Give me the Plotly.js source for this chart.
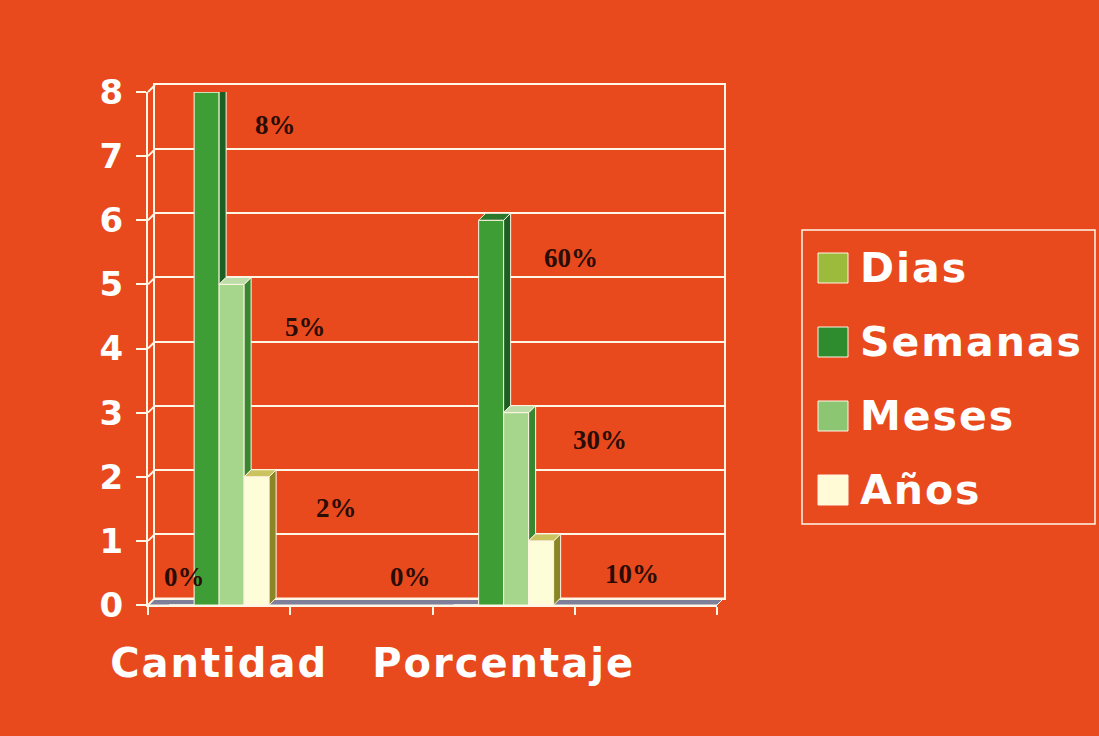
<!DOCTYPE html>
<html>
<head>
<meta charset="utf-8">
<script src="https://cdn.plot.ly/plotly-3.0.1.min.js"></script>
<style>
  html, body { margin: 0; padding: 0; background: #E84A1E; }
  #chart { width: 1099px; height: 736px; }
  .x2tick text { letter-spacing: 2px; }
  text.annotation-text[style*="DejaVu"] { letter-spacing: 2px; }
</style>
</head>
<body>
<div id="chart"></div>
<script>
// ---------- data ----------
const categories = ['Cantidad', 'Porcentaje'];
const seriesNames = ['Dias', 'Semanas', 'Meses', 'Años'];
const dias = [0, 0];
const semanas = [8, 6];
const meses = [5, 3];
const anos = [2, 1];
const diasLabels = ['0%', '0%'];
const semanasLabels = ['8%', '60%'];
const mesesLabels = ['5%', '30%'];
const anosLabels = ['2%', '10%'];
const yTicks = [0, 1, 2, 3, 4, 5, 6, 7, 8];

// ---------- styles ----------
const BG = '#E84A1E';
const WHITE = '#FFF6E6';
const frontColors = ['#9cba3a', '#3f9d35', '#a6d68c', '#fdfdd8'];
const sideColors = ['#5d7a1e', '#1d5f22', '#378730', '#8a8626'];
const topColors = ['#b7cf5a', '#2b782c', '#bddda8', '#cbc45e'];
const legendColors = ['#9cbb3c', '#2e8b2e', '#8cc672', '#fffbd6'];
// pixel offsets of data labels (per series, per category) relative to category centre / bar top
const labelDX = [[-35, -93], [56, 67], [86, 96], [117, 128]];
const labelDY = [[28, 28], [-33, -38], [-43, -27], [-31, -33]];

const values = [dias, semanas, meses, anos];
const labels = [diasLabels, semanasLabels, mesesLabels, anosLabels];

// ---------- geometry ----------
const W = 1099, H = 736;
const M = { l: 148, r: 375, t: 85, b: 131 };
const PW = W - M.l - M.r;   // 576
const PH = H - M.t - M.b;   // 520
const DEPTH = 7;
const xRange = [-0.25, 1.75], yRange = [0, 8];
const frontW = PW - DEPTH, frontH = PH - DEPTH;
const pxPerX = frontW / (xRange[1] - xRange[0]);
const pxPerY = frontH / (yRange[1] - yRange[0]);
const ddx = DEPTH / pxPerX, ddy = DEPTH / pxPerY;
const barW = 25 / pxPerX;
const catX = categories.map((c, i) => i);

const traces = [];
// dummy trace so the back-wall subplot exists
traces.push({ type: 'scatter', x: [], y: [], xaxis: 'x', yaxis: 'y', hoverinfo: 'skip', showlegend: false });

// front faces
seriesNames.forEach((name, k) => {
  traces.push({
    type: 'bar', name: name, x: catX, y: values[k],
    offset: (k - 2) * barW, width: barW,
    xaxis: 'x2', yaxis: 'y2',
    marker: { color: frontColors[k], line: { color: WHITE, width: 1 } },
    showlegend: false, hoverinfo: 'name+y'
  });
});

// 3D side and top faces
categories.forEach((c, i) => {
  seriesNames.forEach((name, k) => {
    const v = values[k][i];
    if (!(v > 0)) return;
    const xl = i + (k - 2) * barW, xr = xl + barW;
    const vn = k < seriesNames.length - 1 ? values[k + 1][i] : 0;
    if (vn < v) {
      traces.push({
        type: 'scatter', mode: 'lines', fill: 'toself', xaxis: 'x2', yaxis: 'y2',
        x: [xr, xr, xr + ddx, xr + ddx, xr], y: [vn, v, v + ddy, vn + ddy, vn],
        fillcolor: sideColors[k], line: { color: WHITE, width: 1 },
        hoverinfo: 'skip', showlegend: false
      });
    }
    traces.push({
      type: 'scatter', mode: 'lines', fill: 'toself', xaxis: 'x2', yaxis: 'y2',
      x: [xl, xr, xr + ddx, xl + ddx, xl], y: [v, v, v + ddy, v + ddy, v],
      fillcolor: topColors[k], line: { color: WHITE, width: 1 },
      hoverinfo: 'skip', showlegend: false
    });
  });
});

// ---------- shapes ----------
const px2x = px => (px - M.l) / PW;
const px2y = py => (H - M.b - py) / PH;
const shapes = [];
// floor
shapes.push({
  type: 'path', xref: 'paper', yref: 'paper', layer: 'below',
  path: `M 0,0 L ${frontW / PW},0 L 1,${DEPTH / PH} L ${DEPTH / PW},${DEPTH / PH} Z`,
  fillcolor: '#7e7f98', line: { color: WHITE, width: 1 }
});
// left wall diagonals
yTicks.forEach(t => {
  const y0 = (t - yRange[0]) / (yRange[1] - yRange[0]) * frontH / PH;
  shapes.push({
    type: 'line', xref: 'paper', yref: 'paper', layer: 'below',
    x0: 0, y0: y0, x1: DEPTH / PW, y1: y0 + DEPTH / PH,
    line: { color: WHITE, width: 2 }
  });
});
// legend box
shapes.push({
  type: 'rect', xref: 'paper', yref: 'paper',
  x0: px2x(802), x1: px2x(1095), y0: px2y(524), y1: px2y(230),
  line: { color: WHITE, width: 1.5 }, fillcolor: 'rgba(0,0,0,0)'
});
const legendY = [268, 342, 416, 490];
seriesNames.forEach((name, k) => {
  shapes.push({
    type: 'rect', xref: 'paper', yref: 'paper',
    x0: px2x(818), x1: px2x(848), y0: px2y(legendY[k] + 15), y1: px2y(legendY[k] - 15),
    fillcolor: legendColors[k], line: { color: WHITE, width: 1 }
  });
});

// ---------- annotations ----------
const annotations = [];
seriesNames.forEach((name, k) => {
  categories.forEach((c, i) => {
    annotations.push({
      xref: 'x2', yref: 'y2', x: i, y: values[k][i],
      xshift: labelDX[k][i], yshift: labelDY[k][i],
      text: labels[k][i], showarrow: false, xanchor: 'center', yanchor: 'middle',
      font: { family: 'Liberation Serif', size: 27, color: '#2a0c04', weight: 'bold' }
    });
  });
  annotations.push({
    xref: 'paper', yref: 'paper', x: px2x(858), y: px2y(legendY[k]),
    text: name, showarrow: false, xanchor: 'left', yanchor: 'middle',
    font: { family: 'DejaVu Sans', size: 41, color: '#ffffff', weight: 'bold' }
  });
});

const layout = {
  width: W, height: H,
  margin: M,
  paper_bgcolor: BG, plot_bgcolor: 'rgba(0,0,0,0)',
  showlegend: false,
  barmode: 'overlay',
  xaxis: {
    domain: [DEPTH / PW, 1], range: xRange, anchor: 'y',
    showgrid: false, zeroline: false, showticklabels: false, ticks: '',
    showline: true, mirror: true, linecolor: WHITE, linewidth: 2, fixedrange: true
  },
  yaxis: {
    domain: [DEPTH / PH, 1], range: yRange, anchor: 'x', dtick: 1,
    showgrid: true, gridcolor: WHITE, gridwidth: 2, zeroline: false,
    showticklabels: false, ticks: '',
    showline: true, mirror: true, linecolor: WHITE, linewidth: 2, fixedrange: true
  },
  xaxis2: {
    domain: [0, frontW / PW], range: xRange, anchor: 'y2',
    tickmode: 'array', tickvals: catX, ticktext: categories, ticks: '',
    tickfont: { family: 'DejaVu Sans', size: 40, color: '#ffffff', weight: 'bold' },
    ticklabelstandoff: 22,
    minor: { tickmode: 'array', tickvals: [-0.25, 0.25, 0.75, 1.25, 1.75], ticks: 'outside', ticklen: 8, tickcolor: WHITE, tickwidth: 2, showgrid: false },
    showgrid: false, zeroline: false,
    showline: true, linecolor: WHITE, linewidth: 2, fixedrange: true
  },
  yaxis2: {
    domain: [0, frontH / PH], range: yRange, anchor: 'x2',
    tickmode: 'array', tickvals: yTicks, ticktext: yTicks.map(String),
    ticks: 'outside', ticklen: 10, tickcolor: WHITE, tickwidth: 2,
    ticklabelstandoff: 6,
    tickfont: { family: 'DejaVu Sans', size: 34, color: '#ffffff', weight: 'bold' },
    showgrid: false, zeroline: false,
    showline: true, linecolor: WHITE, linewidth: 2, fixedrange: true
  },
  shapes: shapes,
  annotations: annotations
};

Plotly.newPlot('chart', traces, layout, { displayModeBar: false, staticPlot: true });
</script>
</body>
</html>
